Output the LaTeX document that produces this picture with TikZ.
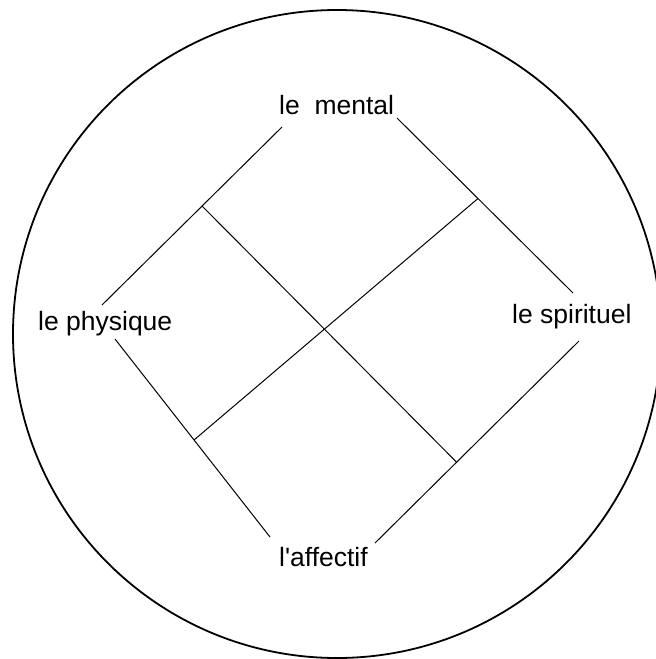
\documentclass[tikz,border=0pt]{standalone}
\usepackage{fontspec}
\setmainfont{Liberation Sans}
\usetikzlibrary{calc}
\begin{document}
\begin{tikzpicture}[x=1pt,y=-1pt,
  lbl/.style={inner sep=0pt,anchor=base west,font=\fontsize{26.5}{31}\selectfont},
  ln/.style={line width=1pt,black},
  rim/.style={line width=1.8pt,black}]
\useasboundingbox (0,0) rectangle (656,659);
\clip (0,0) rectangle (656,659);
\draw[rim] (337,334) circle[radius=324];
% labels
\node[lbl] (mental) at (279,114) {le\ \ mental};
\node[lbl] (physique) at (38,330) {le physique};
\node[lbl] (spirituel) at (512,323) {le spirituel};
\node[lbl] (affectif) at (279,566) {l\textquotesingle affectif};
% connector end points
\coordinate (mL) at (282,127);
\coordinate (pT) at (102,305);
\coordinate (mR) at (397,118);
\coordinate (sT) at (573,293);
\coordinate (pB) at (115,339);
\coordinate (aL) at (270,537);
\coordinate (aR) at (375,543);
\coordinate (sB) at (579,341);
% junctions
\coordinate (j1) at ($(mL)!0.444!(pT)$);
\coordinate (j2) at ($(mR)!0.46!(sT)$);
\coordinate (j3) at ($(pB)!0.51!(aL)$);
\coordinate (j4) at ($(aR)!0.40!(sB)$);
% outer square sides
\draw[ln] (mL) -- (pT);
\draw[ln] (mR) -- (sT);
\draw[ln] (pB) -- (aL);
\draw[ln] (aR) -- (sB);
% inner cross
\draw[ln] (j1) -- (j4);
\draw[ln] (j2) -- (j3);
\end{tikzpicture}
\end{document}
